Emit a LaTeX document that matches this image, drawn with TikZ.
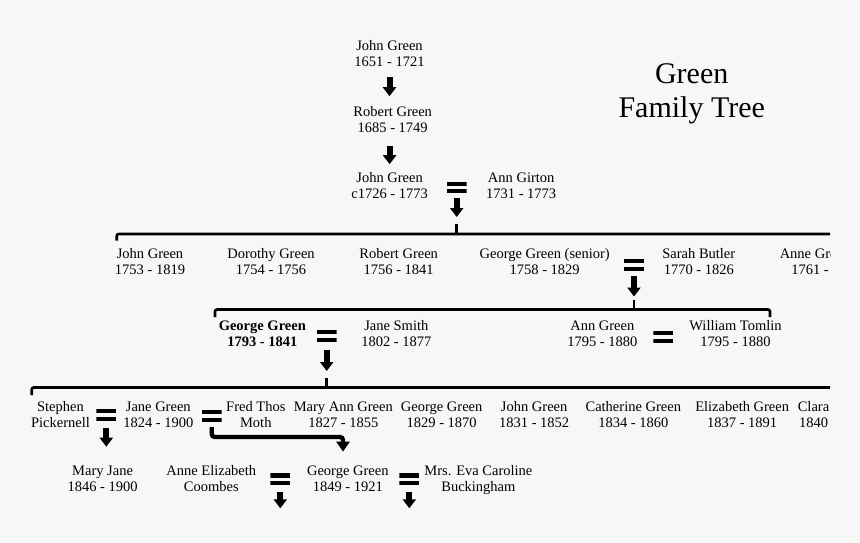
\documentclass[tikz,border=0pt]{standalone}
\usepackage{fontspec}
\setmainfont{Liberation Serif}
\usetikzlibrary{arrows.meta}
\definecolor{paper}{HTML}{F7F7F7}

\begin{document}
\begin{tikzpicture}[
    x=1pt, y=-1pt,
    person/.style={align=center, inner sep=0pt, font=\fontsize{14.5}{16}\selectfont},
    lead/.style={person, font=\fontsize{14.5}{16}\selectfont\bfseries},
    wed/.style={minimum width=20pt, minimum height=11.8pt, inner sep=0pt,
        path picture={
            \fill (path picture bounding box.north west) rectangle ([yshift=-4.2pt]path picture bounding box.north east);
            \fill ([yshift=4.2pt]path picture bounding box.south west) rectangle (path picture bounding box.south east);
        }},
    descent/.style={line width=6pt, -{Triangle[width=13pt,length=9pt]}},
    kin/.style={line width=2.6pt, rounded corners=2pt},
    link/.style={line width=4.3pt, rounded corners=3pt, -{Triangle[width=13pt,length=10pt]}}
]

\fill[paper] (0,0) rectangle (860,543);
\useasboundingbox (0,0) rectangle (860,543);

\begin{scope}
\clip (0,0) rectangle (830,543);

% Title
\node[font=\fontsize{30}{34}\selectfont, align=center, inner sep=0pt] (title) at (691.7,93.4) {Green\\Family Tree};

% Top line
\node[person] (jg1) at (389.5,53.7) {John Green\\1651 - 1721};
\node[person] (rg1) at (392.7,119.5) {Robert Green\\1685 - 1749};
\node[person] (jg2) at (389.6,185.5) {John Green\\c1726 - 1773};
\node[wed] (w1) at (456.7,187.5) {};
\node[person] (ag) at (521.2,185.5) {Ann Girton\\1731 - 1773};

\draw[descent, shorten <=10pt, shorten >=10pt] (jg1.south) -- (jg1.south |- rg1.north);
\draw[descent, shorten <=13pt, shorten >=8pt] (rg1.south -| jg2.north) -- (jg2.north);

% Children of John and Ann
\coordinate (b1w) at (116.7,240.5);
\coordinate (b1m) at (456.7,234);
\coordinate (b1e) at (840,234);
\coordinate (k1) at (456.7,224);
\draw[kin] (b1w) |- (b1m) -- (b1e);
\draw[kin] (k1) -- (b1m);
\draw[descent, shorten <=4.5pt, shorten >=7pt] (w1.south) -- (k1);

\node[person] (jg3) at (150,261.7) {John Green\\1753 - 1819};
\node[person] (dg) at (271,261.7) {Dorothy Green\\1754 - 1756};
\node[person] (rg2) at (398.7,261.7) {Robert Green\\1756 - 1841};
\node[person] (gs) at (544.7,261.7) {George Green (senior)\\1758 - 1829};
\node[wed] (w2) at (634,265) {};
\node[person] (sb) at (698.8,261.7) {Sarah Butler\\1770 - 1826};
\node[person] (agr) at (815,261.7) {Anne Green\\1761 - ?};

% Children of George and Sarah
\coordinate (b2w) at (215,317);
\coordinate (b2m) at (634,309.5);
\coordinate (b2e) at (770,317);
\coordinate (k2) at (634,300);
\draw[kin] (b2w) |- (b2m) -| (b2e);
\draw[kin] (k2) -- (b2m);
\draw[descent, shorten <=5pt, shorten >=3.5pt] (w2.south) -- (k2);

\node[lead] (gg1) at (262.3,334) {George Green\\1793 - 1841};
\node[wed] (w3) at (326.7,335.9) {};
\node[person] (js) at (396.3,334) {Jane Smith\\1802 - 1877};
\node[person] (ang) at (602.3,334) {Ann Green\\1795 - 1880};
\node[wed] (w4) at (663.3,336.8) {};
\node[person] (wt) at (735.5,334) {William Tomlin\\1795 - 1880};

% Children of George and Jane
\coordinate (b3w) at (31.7,395);
\coordinate (b3m) at (326.7,387.5);
\coordinate (b3e) at (840,387.5);
\coordinate (k3) at (326.7,378);
\draw[kin] (b3w) |- (b3m) -- (b3e);
\draw[kin] (k3) -- (b3m);
\draw[descent, shorten <=8pt, shorten >=7pt] (w3.south) -- (k3);

\node[person] (sp) at (60.5,414.5) {Stephen\\Pickernell};
\node[wed] (w5) at (106.3,415) {};
\node[person] (jg4) at (158.3,414.5) {Jane Green\\1824 - 1900};
\node[wed] (w6) at (211.7,415.9) {};
\node[person] (fm) at (255.8,414.5) {Fred Thos\\Moth};
\node[person] (mag) at (343.3,414.5) {Mary Ann Green\\1827 - 1855};
\node[person] (gg2) at (441.7,414.5) {George Green\\1829 - 1870};
\node[person] (jg5) at (534.2,414.5) {John Green\\1831 - 1852};
\node[person] (cg) at (633.3,414.5) {Catherine Green\\1834 - 1860};
\node[person] (eg) at (742.2,414.5) {Elizabeth Green\\1837 - 1891};
\node[person] (cl) at (813.5,414.5) {Clara\\1840};

% Grandchildren
\node[person] (mj) at (102.6,478.7) {Mary Jane\\1846 - 1900};
\node[person] (ae) at (211.3,478.7) {Anne Elizabeth\\Coombes};
\node[wed] (w7) at (280.3,479.2) {};
\node[person] (gg3) at (347.8,478.7) {George Green\\1849 - 1921};
\node[wed] (w8) at (409.3,479.2) {};
\node[person] (eb) at (478.4,480.3) {Mrs. Eva Caroline\\Buckingham};

\draw[descent, shorten <=7pt, shorten >=19pt] (w5.south) -- (w5.south |- mj.north);

\coordinate (jn) at (343,437);
\draw[link, shorten <=5pt, shorten >=14pt] (w6.south) |- (jn) -- (jn |- gg3.north);

\coordinate (e7) at (280.3,508.3);
\coordinate (e8) at (409.3,508.3);
\draw[descent, shorten <=7pt] (w7.south) -- (e7);
\draw[descent, shorten <=7pt] (w8.south) -- (e8);

\end{scope}

\end{tikzpicture}
\end{document}
